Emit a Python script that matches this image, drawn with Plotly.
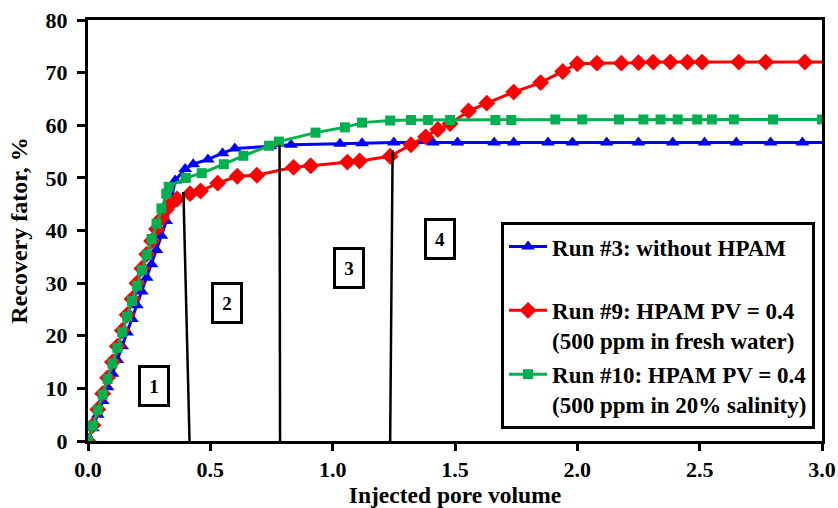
import plotly.graph_objects as go

# ---- data ----
run3_x = [0, 0.02, 0.04, 0.06, 0.08, 0.10, 0.12, 0.14, 0.16, 0.18, 0.20, 0.22, 0.24, 0.26, 0.28, 0.30, 0.32,
          0.34, 0.356, 0.397, 0.43, 0.49, 0.55, 0.60, 0.745, 0.83, 1.03, 1.12, 1.25, 1.41, 1.51, 1.66, 1.74,
          1.88, 1.98, 2.12, 2.25, 2.39, 2.52, 2.65, 2.79, 2.92, 3.05]
run3_y = [0, 2.4, 5.0, 7.6, 10.2, 12.8, 15.4, 18.0, 20.6, 23.2, 25.8, 28.4, 31.0, 33.6, 36.3, 39.0, 41.8,
          45.5, 49.5, 51.7, 52.6, 53.5, 54.7, 55.6, 56.0, 56.3, 56.5, 56.6, 56.7, 56.7, 56.7, 56.7, 56.7,
          56.7, 56.7, 56.7, 56.7, 56.7, 56.7, 56.7, 56.7, 56.7, 56.7]

run9_x = [0, 0.02, 0.04, 0.06, 0.08, 0.10, 0.12, 0.14, 0.16, 0.18, 0.20, 0.22, 0.24, 0.26, 0.28, 0.30, 0.32,
          0.34, 0.364, 0.417, 0.46, 0.53, 0.61, 0.69, 0.84, 0.91, 1.06, 1.11, 1.235, 1.32, 1.38, 1.43, 1.48,
          1.555, 1.63, 1.74, 1.85, 1.94, 2.0, 2.08, 2.18, 2.25, 2.31, 2.38, 2.45, 2.51, 2.66, 2.77, 2.93, 3.05]
run9_y = [0, 3.0, 6.0, 9.0, 12.0, 15.0, 18.0, 21.0, 24.0, 27.0, 30.0, 32.8, 35.5, 38.0, 40.3, 42.3, 44.0,
          45.2, 46.0, 47.0, 47.5, 49.0, 50.3, 50.5, 52.0, 52.3, 53.0, 53.2, 54.1, 56.3, 57.8, 59.2, 60.3,
          62.7, 64.2, 66.3, 68.1, 70.2, 71.7, 71.8, 71.8, 71.9, 72.0, 72.0, 72.0, 72.0, 72.0, 72.0, 72.0, 72.0]

run10_x = [0, 0.02, 0.04, 0.06, 0.08, 0.10, 0.12, 0.14, 0.16, 0.18, 0.20, 0.22, 0.24, 0.26, 0.28, 0.30, 0.32,
           0.33, 0.40, 0.465, 0.555, 0.635, 0.74, 0.78, 0.93, 1.05, 1.12, 1.235, 1.32, 1.39, 1.48, 1.665, 1.73,
           1.91, 2.02, 2.17, 2.27, 2.34, 2.41, 2.49, 2.55, 2.64, 2.80, 3.0]
run10_y = [0, 2.9, 5.9, 8.8, 11.8, 14.7, 17.7, 20.7, 23.6, 26.6, 29.5, 32.5, 35.4, 38.4, 41.3, 44.2, 47.0,
           48.3, 50.0, 50.9, 52.6, 54.2, 56.1, 56.9, 58.6, 59.6, 60.5, 60.9, 61.0, 61.0, 61.0, 61.0, 61.0,
           61.1, 61.1, 61.1, 61.1, 61.1, 61.1, 61.1, 61.1, 61.1, 61.1, 61.1]

# stage boundaries (x_top, y_top, x_bottom, y_bottom)
bound_x_top = [0.39, 0.783, 1.245]
bound_y_top = [47.3, 56.3, 55.2]
bound_x_bot = [0.415, 0.785, 1.235]
bound_y_bot = [0, 0, 0]

# stage labels
stage_labels = ["1", "2", "3", "4"]
stage_x = [0.268, 0.569, 1.065, 1.44]
stage_y = [10.4, 26.2, 32.8, 38.3]

names = ["Run #3: without HPAM<br>&nbsp;",
         "Run #9: HPAM PV = 0.4<br>(500 ppm in fresh water)",
         "Run #10: HPAM PV = 0.4<br>(500 ppm in 20% salinity)"]

FONT = "Liberation Serif"

fig = go.Figure()
fig.add_trace(go.Scatter(x=run3_x, y=run3_y, name=names[0], mode="lines+markers", legendgroup="a",
                         line=dict(color="#0000FF", width=3),
                         marker=dict(symbol="triangle-up", size=12, color="#0000FF")))
fig.add_trace(go.Scatter(x=run9_x, y=run9_y, name=names[1], mode="lines+markers", legendgroup="b",
                         line=dict(color="#FF0000", width=3),
                         marker=dict(symbol="diamond", size=13, color="#FF0000")))
fig.add_trace(go.Scatter(x=run10_x, y=run10_y, name=names[2], mode="lines+markers", legendgroup="c",
                         line=dict(color="#00B050", width=3),
                         marker=dict(symbol="square", size=10, color="#00B050")))

for xt, yt, xb, yb in zip(bound_x_top, bound_y_top, bound_x_bot, bound_y_bot):
    fig.add_shape(type="line", x0=xt, y0=yt, x1=xb, y1=yb, xref="x", yref="y",
                  line=dict(color="black", width=2.5), layer="above")

for lab, sx, sy in zip(stage_labels, stage_x, stage_y):
    fig.add_annotation(x=sx, y=sy, xref="x", yref="y", text="<b>" + lab + "</b>", showarrow=False,
                       font=dict(family=FONT, size=19, color="black"),
                       bordercolor="black", borderwidth=3, borderpad=2, bgcolor="white",
                       width=22, height=32)

fig.update_layout(
    width=838, height=508,
    margin=dict(l=88, r=16, t=20, b=67, autoexpand=False),
    paper_bgcolor="white", plot_bgcolor="white",
    font=dict(family=FONT, color="black"),
    showlegend=True,
    legend=dict(x=0.5627, y=0.52, xanchor="left", yanchor="top",
                bordercolor="black", borderwidth=3, bgcolor="white",
                font=dict(family=FONT, size=23, color="black", weight="bold"),
                valign="top", tracegroupgap=1, traceorder="grouped", itemwidth=38),
    xaxis=dict(range=[0, 3], dtick=0.5, tickformat=".1f", showgrid=False, zeroline=False,
               automargin=False,
               showline=True, linecolor="black", linewidth=3, mirror=True,
               ticks="outside", ticklen=7, tickwidth=3, tickcolor="black",
               tickfont=dict(family=FONT, size=22, color="black", weight="bold"),
               title=dict(text="Injected pore volume", standoff=6,
                          font=dict(family=FONT, size=23.5, color="black", weight="bold"))),
    yaxis=dict(range=[0, 80], dtick=10, showgrid=False, zeroline=False,
               automargin=False,
               showline=True, linecolor="black", linewidth=3, mirror=True,
               ticks="outside", ticklen=8, tickwidth=3, tickcolor="black", ticklabelstandoff=5,
               tickfont=dict(family=FONT, size=22, color="black", weight="bold"),
               title=dict(text="Recovery fator, %", standoff=12,
                          font=dict(family=FONT, size=24, color="black", weight="bold"))),
)

fig.write_html("out.html")
